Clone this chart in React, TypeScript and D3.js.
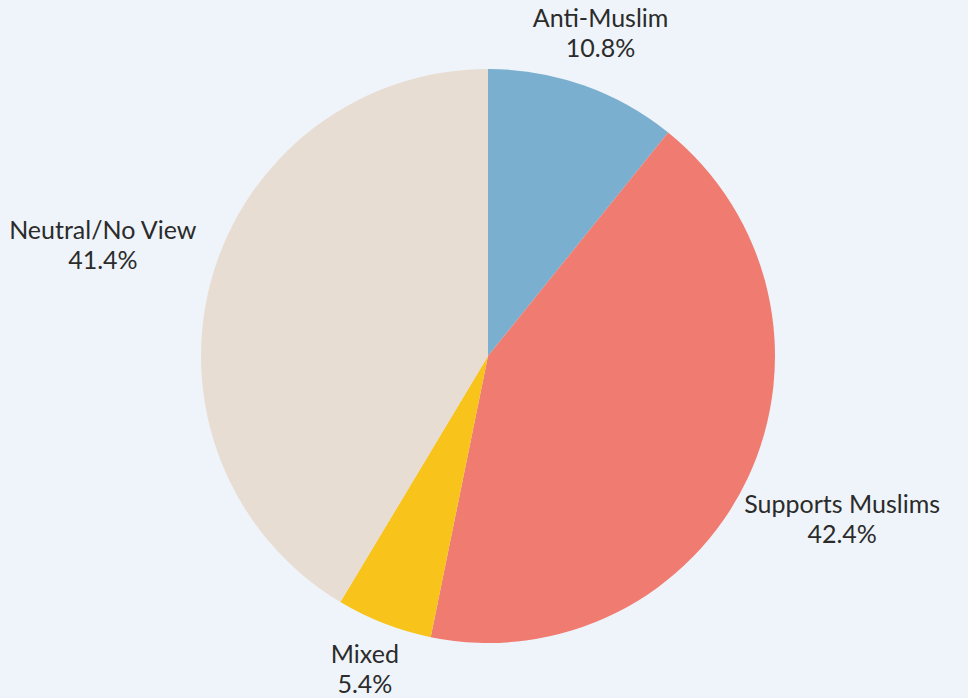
import React from "react";
import * as d3 from "d3";

const categories = ["Anti-Muslim", "Supports Muslims", "Mixed", "Neutral/No View"];
const values = [10.8, 42.4, 5.4, 41.4];
const colors = ["#7aafd0", "#f07b71", "#f8c41b", "#e8ddd2"];

const W = 968;
const H = 698;
const cx = 488;
const cy = 356;
const R = 287;

export default function App() {
  const data = categories.map((c, i) => ({ name: c, value: values[i], color: colors[i] }));
  const pie = d3.pie<any>().sort(null).value((d: any) => d.value);
  const arcs = pie(data);
  const arc = d3.arc<any>().innerRadius(0).outerRadius(R);
  return (
    <svg
      width={W}
      height={H}
      style={{ position: "absolute", left: 0, top: 0, background: "#eef4f9" }}
      fontFamily="Lato, 'Noto Sans', sans-serif"
    >
      <rect width={W} height={H} fill="#eef4f9" />
      <g transform={`translate(${cx},${cy})`}>
        {arcs.map((a, i) => (
          <path key={i} d={arc(a) as string} fill={a.data.color} />
        ))}
        {arcs.map((a, i) => {
          const mid = (a.startAngle + a.endAngle) / 2;
          const s = Math.sin(mid);
          const lr = 330 + 75 * s * s;
          const x = lr * s;
          const y = -lr * Math.cos(mid);
          return (
            <text key={i} x={x} y={y} textAnchor="middle" fill="#2b2b2b" fontSize={25}>
              <tspan x={x} dy={-10}>{a.data.name}</tspan>
              <tspan x={x} dy={30}>{a.data.value.toFixed(1)}%</tspan>
            </text>
          );
        })}
      </g>
    </svg>
  );
}
